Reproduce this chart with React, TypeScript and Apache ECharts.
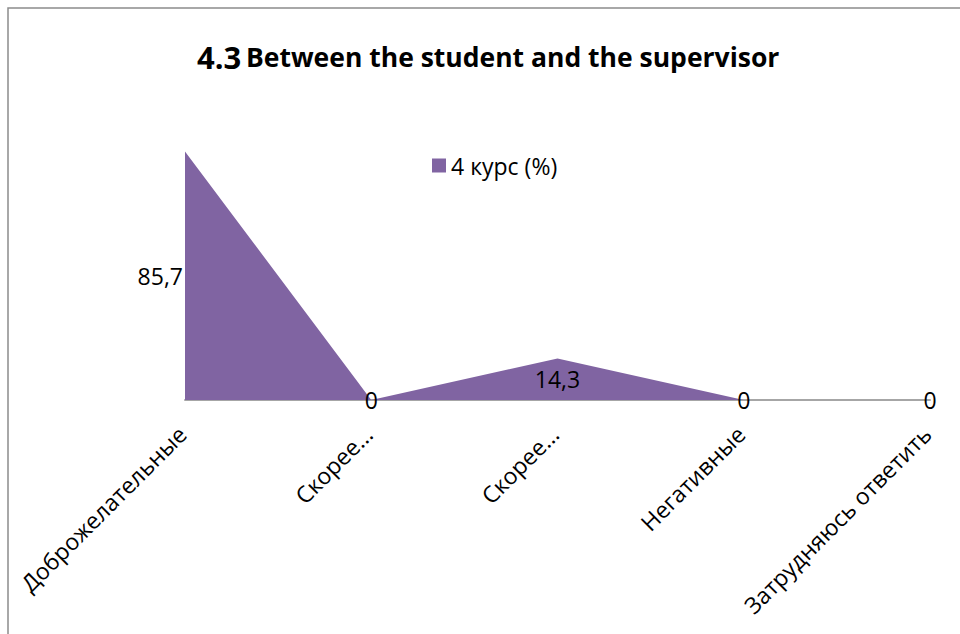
import React, { useEffect, useRef } from "react";
import * as echarts from "echarts";

// Survey answers and the share of 4th-year students (%) giving each one
const categories = [
  "Доброжелательные",
  "Скорее...",
  "Скорее...",
  "Негативные",
  "Затрудняюсь ответить",
];
const seriesName = "4 курс (%)";
const values = [85.7, 0, 14.3, 0, 0];

const FONT = "'Open Sans', 'Noto Sans', sans-serif";
const PURPLE = "#8064A2";

const fmt = (v: number) => String(v).replace(".", ",");

export default function App() {
  const ref = useRef<HTMLDivElement>(null);

  useEffect(() => {
    if (!ref.current) return;
    const chart = echarts.init(ref.current, undefined, { renderer: "svg" });

    chart.setOption({
      animation: false,
      backgroundColor: "#ffffff",
      textStyle: { fontFamily: FONT },
      title: {
        left: 192,
        top: 36,
        text: "{a|4.3} {b|Between the student and the supervisor}",
        textStyle: {
          rich: {
            a: { fontSize: 31, fontWeight: "bold", fontFamily: FONT, color: "#000" },
            b: { fontSize: 26.5, fontWeight: "bold", fontFamily: FONT, color: "#000" },
          },
        },
      },
      legend: {
        left: 427,
        top: 149,
        icon: "rect",
        itemWidth: 14,
        itemHeight: 14,
        itemGap: 6,
        data: [seriesName],
        textStyle: { fontSize: 23, color: "#000", fontFamily: FONT },
      },
      grid: [
        { left: 185, right: 30, top: 110, bottom: 234, containLabel: false },
        // second grid, nudged slightly, carries the rotated category labels
        { left: 182, right: 33, top: 110, bottom: 234, containLabel: false },
      ],
      xAxis: [
        {
          type: "category",
          gridIndex: 0,
          data: categories,
          boundaryGap: false,
          axisLine: { show: true, lineStyle: { color: "#A6A6A6", width: 2 } },
          axisTick: { show: false },
          axisLabel: { show: false },
          splitLine: { show: false },
        },
        {
          type: "category",
          gridIndex: 1,
          data: categories,
          boundaryGap: false,
          axisLine: { show: false },
          axisTick: { show: false },
          axisLabel: {
            rotate: 45,
            interval: 0,
            margin: 30,
            fontSize: 23,
            color: "#000",
            fontFamily: FONT,
          },
          splitLine: { show: false },
        },
      ],
      yAxis: [
        { type: "value", gridIndex: 0, min: 0, max: 100, show: false },
        { type: "value", gridIndex: 1, min: 0, max: 100, show: false },
      ],
      series: [
        {
          name: seriesName,
          type: "line",
          data: values,
          symbol: "none",
          lineStyle: { width: 0, color: PURPLE },
          itemStyle: { color: PURPLE },
          areaStyle: { color: PURPLE, opacity: 1 },
          z: 1,
        },
        {
          // value labels, placed halfway up each value
          name: "labels",
          type: "line",
          data: values.map((v, i) => ({
            value: v / 2,
            label: i === 0 ? { align: "right", offset: [-2, 0] } : {},
          })),
          symbol: "circle",
          symbolSize: 1,
          itemStyle: { color: "rgba(0,0,0,0)" },
          lineStyle: { width: 0, opacity: 0 },
          z: 5,
          silent: true,
          label: {
            show: true,
            position: "inside",
            fontSize: 23,
            color: "#000",
            fontFamily: FONT,
            formatter: (p: any) => fmt(values[p.dataIndex]),
          },
        },
      ],
      graphic: [
        {
          type: "rect",
          shape: { x: 8, y: 8, width: 1000, height: 700 },
          style: { fill: "none", stroke: "#8C8C8C", lineWidth: 1.5 },
          silent: true,
          z: 100,
        },
      ],
    });

    return () => chart.dispose();
  }, []);

  return (
    <div
      ref={ref}
      style={{ position: "fixed", left: 0, top: 0, width: 960, height: 634 }}
    />
  );
}
